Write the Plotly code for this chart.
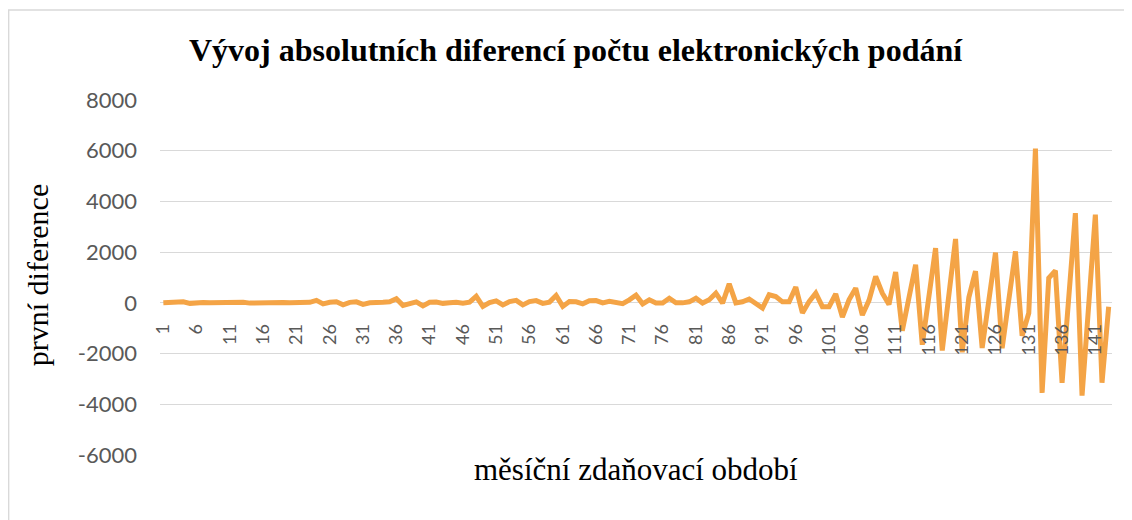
import plotly.graph_objects as go

# monthly periods 1..143 and first differences of electronic filings
periods = list(range(1, 144))
first_diff = [
    0, 20, 30, 40, -20, 10, 10, 0, 10, 0,
    10, 0, 20, -10, 0, 10, -10, 0, 10, 0,
    0, 10, 20, 100, -40, 20, 40, -80, 20, 40,
    -60, 0, 30, 20, 40, 160, -100, -20, 40, -120,
    20, 30, -20, 0, 20, -10, 30, 260, -140, 10,
    80, -80, 50, 100, -80, 50, 90, -20, 30, 290,
    -140, 50, 40, -40, 80, 90, 0, 60, 30, -30,
    120, 300, -40, 120, -10, -10, 180, 0, 0, 40,
    180, -10, 120, 380, -10, 750, 0, 40, 150, -10,
    -210, 320, 250, 40, 40, 620, -400, 50, 380, -150,
    -150, 350, -560, 120, 580, -480, 100, 1040, 380, -60,
    1220, -1100, 200, 1500, -1650, 200, 2160, -1880, 300, 2520,
    -1950, 220, 1250, -1780, 100, 1980, -1790, 100, 2030, -1300,
    -400, 6080, -3550, 980, 1270, -3150, 200, 3540, -3660, -80,
    3480, -3150, -150,
]
x_ticks = list(range(1, 144, 5))
y_ticks = list(range(-6000, 8001, 2000))
y_labels = [str(v) for v in y_ticks]  # plain hyphen, as in the original

fig = go.Figure()
fig.add_trace(go.Scatter(
    x=periods, y=first_diff, mode='lines',
    line=dict(color='#F4A446', width=5, shape='linear'),
    hoverinfo='skip', showlegend=False))

serif = 'Liberation Serif, Times New Roman, serif'
# page body adds 8px, so margins are shifted to compensate
fig.update_layout(
    width=1132, height=520,
    margin=dict(l=152, r=28, t=92, b=73),
    paper_bgcolor='white', plot_bgcolor='white',
    xaxis=dict(
        range=[0.5, 143.5], tickvals=x_ticks, ticktext=[str(v) for v in x_ticks],
        tickangle=-90, showgrid=False, zeroline=False, showline=False,
        ticks='outside', ticklen=13, tickcolor='rgba(0,0,0,0)',
        anchor='free', position=3 / 7,
        tickfont=dict(family='Lato', size=18, color='#595959')),
    yaxis=dict(
        range=[-6000, 8000], tickvals=y_ticks, ticktext=y_labels, showgrid=True,
        gridcolor='#D9D9D9', gridwidth=1, zeroline=False, showline=False,
        ticklabelstandoff=22,
        tickfont=dict(family='Lato', size=22, color='#595959')),
    # chart border
    shapes=[dict(type='rect', xref='paper', yref='paper',
                 x0=-0.159, x1=1.04, y0=-0.3, y1=1.2535,
                 line=dict(color='#D9D9D9', width=1.5), layer='below')],
    annotations=[
        dict(text='<b>Vývoj absolutních diferencí počtu elektronických podání</b>',
             xref='paper', yref='paper', x=0.437, y=1.141,
             xanchor='center', yanchor='middle', showarrow=False,
             font=dict(family=serif, size=32, color='black')),
        dict(text='první diference', xref='paper', yref='paper',
             x=-0.129, y=0.507, textangle=-90,
             xanchor='center', yanchor='middle', showarrow=False,
             font=dict(family=serif, size=30, color='black')),
        dict(text='měsíční zdaňovací období', xref='paper', yref='paper',
             x=0.5, y=-0.042, xanchor='center', yanchor='middle', showarrow=False,
             font=dict(family=serif, size=31, color='black')),
    ],
)

fig.write_html("out.html")
